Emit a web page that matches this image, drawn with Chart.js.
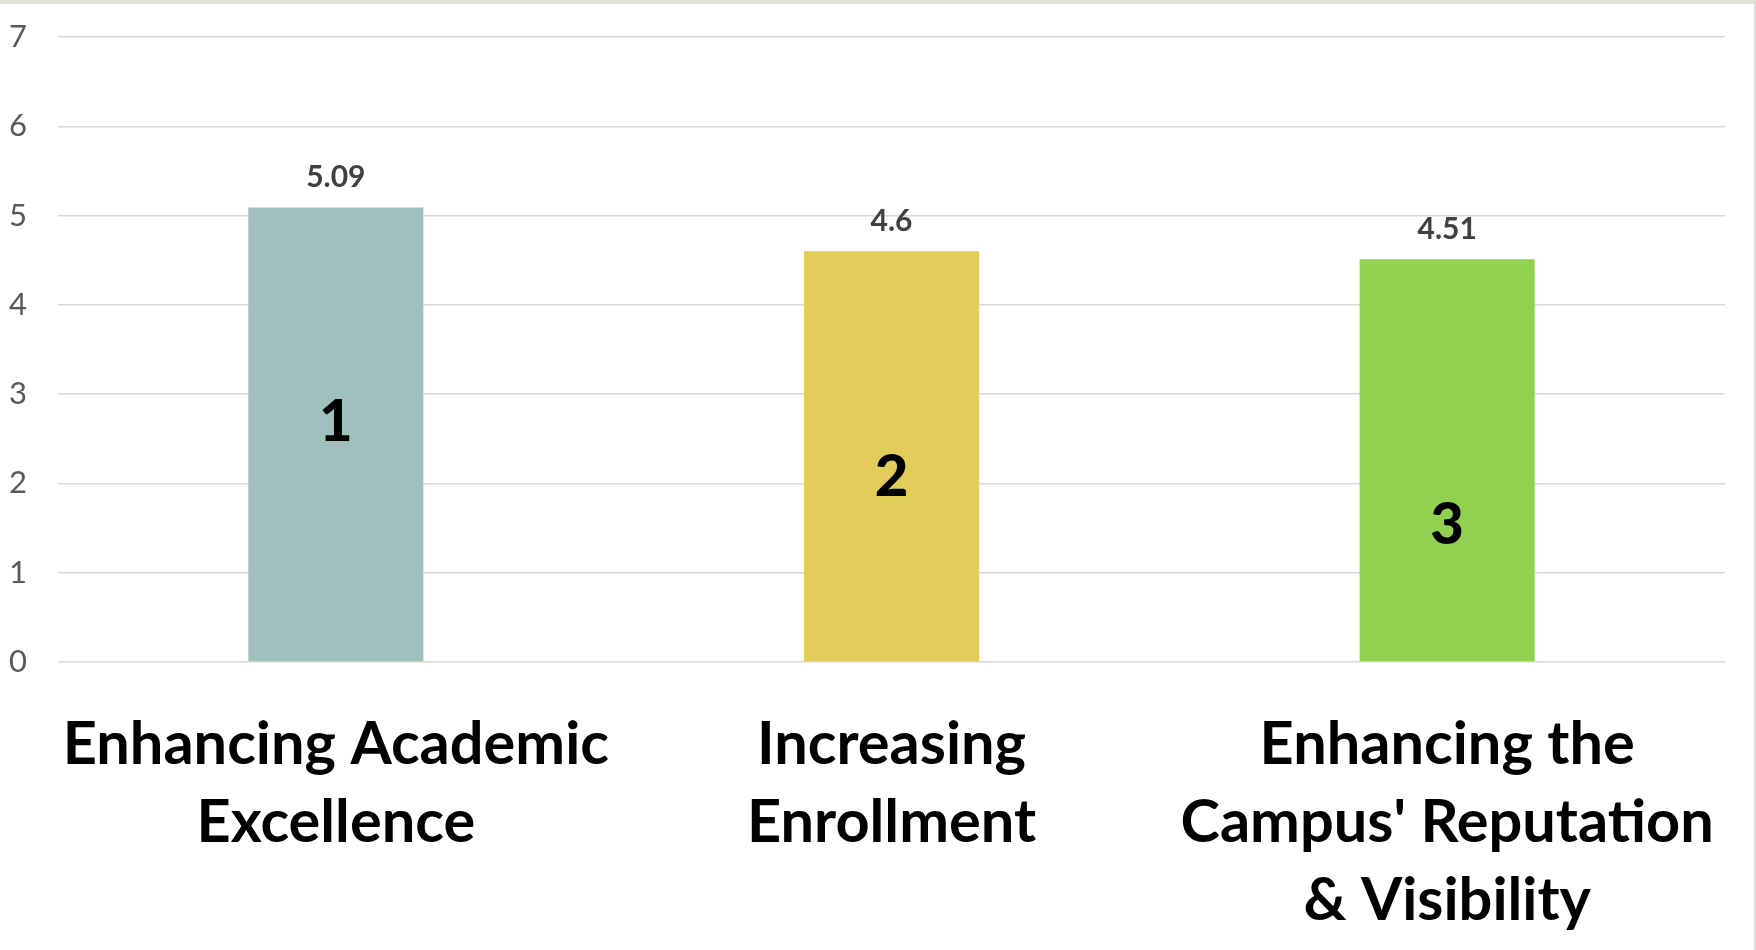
<!DOCTYPE html>
<html>
<head>
<meta charset="utf-8">
<script src="https://cdn.jsdelivr.net/npm/chart.js@4.4.1/dist/chart.umd.min.js"></script>
<style>
    html, body { margin: 0; padding: 0; background: #fff; }
    #wrap {
        width: 1754px;
        height: 946px;
        border-top: 4px solid #e0e0d9;
        border-right: 2px solid #dcdcdc;
    }
</style>
</head>
<body>
<div id="wrap"><canvas id="chartBar" width="1754" height="946"></canvas></div>
<script>
// datos
const labels = [
    ['Enhancing Academic', 'Excellence'],
    ['Increasing', 'Enrollment'],
    ['Enhancing the', "Campus' Reputation", '& Visibility']
];
const scores = [5.09, 4.6, 4.51];
const ranks = ['1', '2', '3'];
const rankLevels = [2.69, 2.07, 1.53]; // altura del número dentro de la barra (en unidades del eje)
const colors = ['#9fc0bf', '#e2cc5a', '#92d050'];
const yTicks = [0, 1, 2, 3, 4, 5, 6, 7];

const fontFamily = 'Lato, "Open Sans", sans-serif';

// etiquetas sobre y dentro de las barras
const barLabels = {
    id: 'barLabels',
    afterDatasetsDraw(chart) {
        const ctx = chart.ctx;
        const yScale = chart.scales.y;
        const bars = chart.getDatasetMeta(0).data;
        ctx.save();
        ctx.textAlign = 'center';
        ctx.textBaseline = 'middle';
        bars.forEach(function (bar, i) {
            ctx.fillStyle = '#404040';
            ctx.font = 'bold 30px ' + fontFamily;
            ctx.fillText(String(scores[i]), bar.x, bar.y - 30);

            ctx.fillStyle = '#000';
            ctx.font = '900 58px ' + fontFamily;
            ctx.fillText(ranks[i], bar.x, yScale.getPixelForValue(rankLevels[i]));
        });
        ctx.restore();
    }
};

new Chart(document.getElementById('chartBar'), {
    type: 'bar',
    data: {
        labels: labels,
        datasets: [{
            data: scores,
            backgroundColor: colors,
            borderWidth: 0,
            categoryPercentage: 1,
            barPercentage: 0.315
        }]
    },
    options: {
        responsive: false,
        animation: false,
        events: [],
        layout: { padding: { top: 33, right: 29, bottom: 0, left: 0 } },
        plugins: {
            legend: { display: false },
            tooltip: { enabled: false }
        },
        scales: {
            x: {
                grid: { display: false },
                border: { display: false },
                ticks: {
                    color: '#000',
                    padding: 36,
                    maxRotation: 0,
                    autoSkip: false,
                    font: { family: fontFamily, size: 59.5, weight: 'bold', lineHeight: 1.31 }
                },
                afterFit(scale) {
                    scale.height = 288;
                    scale.paddingLeft = 0;
                    scale.paddingRight = 0;
                }
            },
            y: {
                min: 0,
                max: 7,
                afterBuildTicks(scale) { scale.ticks = yTicks.map(v => ({ value: v })); },
                grid: { color: '#d9d9d9', lineWidth: 1.5, drawTicks: false },
                border: { display: false },
                ticks: {
                    color: '#595959',
                    padding: 31,
                    font: { family: fontFamily, size: 31 }
                },
                afterFit(scale) {
                    scale.width = 58;
                    scale.paddingTop = 0;
                    scale.paddingBottom = 0;
                }
            }
        }
    },
    plugins: [barLabels]
});
</script>
</body>
</html>
